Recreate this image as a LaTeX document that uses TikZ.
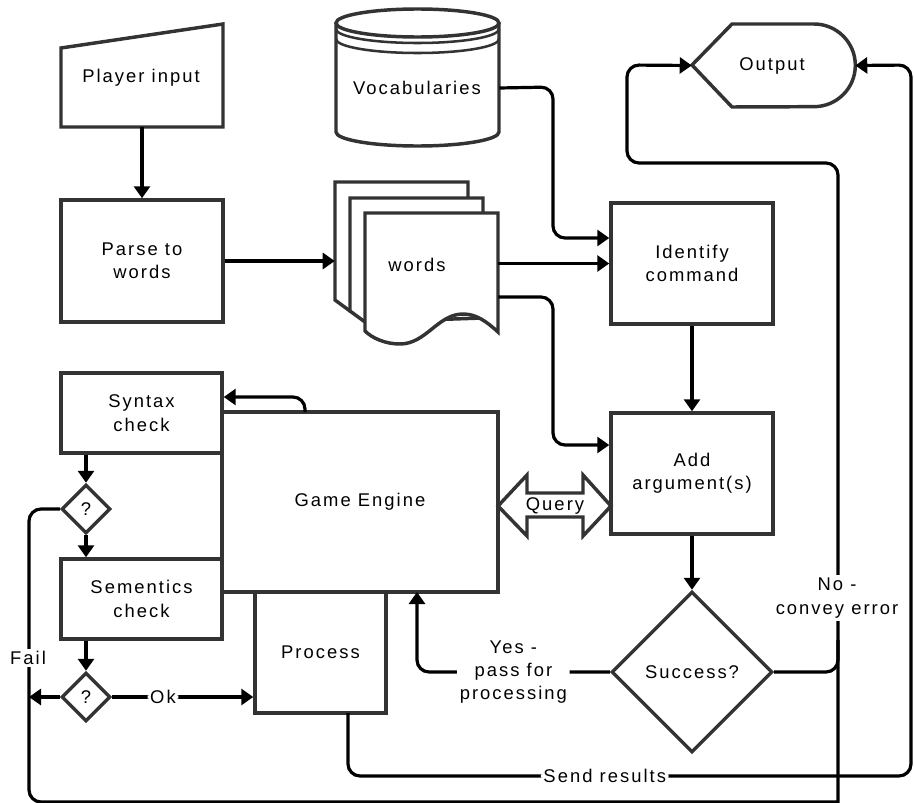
\documentclass[tikz,border=0pt]{standalone}
\usepackage{fontspec}
\newfontfamily\lfont{Liberation Sans}[LetterSpace=11]
\usetikzlibrary{arrows.meta,shapes.geometric,calc}
\definecolor{shc}{HTML}{333333}
\begin{document}
\begin{tikzpicture}[x=0.75pt,y=-0.75pt,
  font=\lfont\fontsize{13.8}{17.5}\selectfont,
  shp/.style={draw=shc,line width=2.6pt,fill=white,line join=miter},
  thinshp/.style={draw=shc,line width=1.9pt},
  pbox/.style 2 args={shp,rectangle,inner sep=0pt,align=center,minimum width=#1*0.75pt,minimum height=#2*0.75pt},
  ghost/.style 2 args={rectangle,inner sep=0pt,minimum width=#1*0.75pt,minimum height=#2*0.75pt},
  dia/.style={shp,diamond,inner sep=0pt,align=center},
  conn/.style={draw=black,line width=2.4pt,rounded corners=9pt},
  arr/.style={conn,-{Triangle[length=9pt,width=12pt]}},
  lbl/.style={fill=white,inner sep=2pt,align=center,text=black}]
\useasboundingbox (0,0) rectangle (914,803);

% ---- Player input (manual input)
\node[ghost={162}{103}] (pin) at (142,75.5) {};
\draw[shp] (61,127) -- (61,48) -- (223,24) -- (223,127) -- cycle;
\node (pintxt) at (141,78) {Player input};

% ---- Parse to words
\node[pbox={162}{122}] (parse) at (142,261) {Parse to\\words};

% ---- Vocabularies (cylinder)
\node[ghost={163}{137}] (vocab) at (417.5,77.5) {};
\draw[shp] (336,23) -- (336,132) arc[start angle=180,end angle=360,x radius=61.125pt,y radius=10.5pt] -- (499,23);
\draw[shp] (417.5,23) ellipse[x radius=61.125pt,y radius=10.5pt];
\draw[thinshp] (336,29) arc[start angle=180,end angle=360,x radius=61.125pt,y radius=10.5pt];
\draw[thinshp] (336,39) arc[start angle=180,end angle=360,x radius=61.125pt,y radius=10.5pt];
\node (vocabtxt) at (417,88) {Vocabularies};

% ---- words (multi document)
\node[ghost={163}{162}] (wstack) at (416.5,263) {};
\draw[shp] (335,182) -- (468,182) -- (468,300) -- (350,311) -- (335,300) -- cycle;
\draw[shp] (350,198) -- (483,198) -- (483,318) -- (365,322) -- (350,311) -- cycle;
\draw[shp] (365,213) -- (498,213) -- (498,332)
  .. controls (486,321) and (476,314) .. (463,314)
  .. controls (438,314) and (426,344) .. (400,344)
  .. controls (385,344) and (372,338) .. (365,331) -- cycle;
\node[ghost={133}{119}] (wdoc) at (431.5,272.5) {};
\node (wordstxt) at (417,265) {words};

% ---- Identify command, Add argument(s)
\node[pbox={162}{121}] (ident) at (692,263.5) {Identify\\command};
\node[pbox={162}{121}] (add) at (692,473.5) {Add\\argument(s)};

% ---- Output (display)
\node[ghost={163}{83}] (outp) at (773.5,65.5) {};
\draw[shp] (692,65) -- (732,24) -- (814,24) arc[start angle=90,end angle=-90,radius=31pt] -- (732,107) -- cycle;
\node (outtxt) at (772,66) {Output};

% ---- Game engine and checks
\node[pbox={276}{180}] (engine) at (360,502) {Game Engine};
\node[pbox={161}{80}] (syntax) at (141.5,413) {Syntax\\check};
\node[pbox={161}{80}] (sem) at (141.5,599) {Sementics\\check};
\node[pbox={131}{121}] (proc) at (320.5,652.5) {Process};

\node[dia,minimum width=49*0.75pt,minimum height=49*0.75pt] (d1) at (86,509) {?};
\node[dia,minimum width=49*0.75pt,minimum height=49*0.75pt] (d2) at (86,697) {?};
\node[dia,minimum width=161*0.75pt,minimum height=161*0.75pt] (succ) at (692,672) {Success?};

% ---- Query double arrow
\draw[shp] (498,506) -- (527,475) -- (527,493) -- (583,493) -- (583,475) -- (611,506)
  -- (583,536) -- (583,517) -- (527,517) -- (527,536) -- cycle;
\node (query) at (555,506) {Query};

% ---- connectors
\draw[arr] (pin.south -| parse.north) -- (parse.north);
\draw[arr] (parse.east) -- (parse.east -| wstack.west);
\draw[arr] (vocab.east |- vocabtxt) -- (553,87) -- (553,238) -- ($(ident.west)+(0,-25.5)$);
\draw[arr] (wdoc.east |- ident.west) -- (ident.west);
\draw[arr] ($(wdoc.east)+(0,24.5)$) -- (553,297) -- (553,445) -- ($(add.west)+(0,-28.5)$);
\draw[arr] (ident.south) -- (add.north);
\draw[arr] (add.south) -- (succ.north);
\draw[arr] (305,412) -- (305,397) -- ($(syntax.east)+(0,-16)$);
\draw[arr] (syntax.south -| d1.north) -- (d1.north);
\draw[arr] (d1.south) -- (d1.south |- sem.north);
\draw[arr] (sem.south -| d2.north) -- (d2.north);
\draw[arr] (d2.west) -- (29,697);
\draw[arr] (d2.east) -- node[lbl,pos=0.36] (oklbl) {Ok} (proc.west |- d2.east);
\draw[arr] (succ.west) -- node[lbl,pos=0.5] (yeslbl) {Yes -\\pass for\\processing} (417,672) -- (417,592);
\draw[conn] (d1.west) -- (29,509) -- (29,802) [sharp corners] -- (838,802) -- (838,640);
\draw[arr] (succ.east) -- (838,672) -- (838,163) -- (627,163) -- (627,65) -- (outp.west);
\draw[arr] (348,713) -- (348,776) -- node[lbl,pos=0.456] (sendlbl) {Send results} (911,776) -- (911,65) -- (outp.east);
\node[lbl] (faillbl) at (28,658) {Fail};
\node[lbl] (nolbl) at (837,598) {No -\\convey error};
\end{tikzpicture}
\end{document}
